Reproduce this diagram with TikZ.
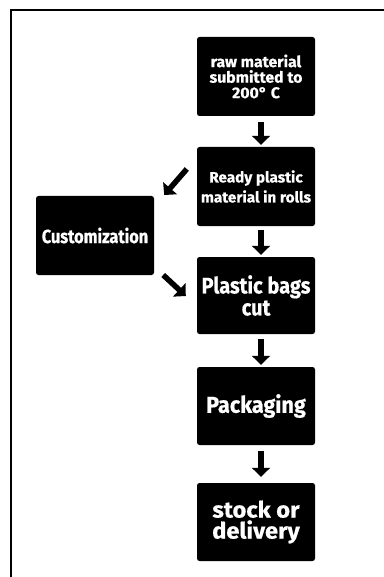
\documentclass[tikz,border=0pt]{standalone}
\usepackage{fontspec}
\setmainfont{Fira Sans}
\newfontfamily\fsA{Fira Sans}[FakeStretch=1.02,FakeBold=0.6]
\newfontfamily\fsB{Fira Sans}[FakeStretch=0.86,FakeBold=0.6]
\newfontfamily\fsE{Fira Sans}[FakeStretch=0.89,FakeBold=0.6]
\newfontfamily\fsC{Fira Sans}[FakeStretch=0.94,FakeBold=0.6]
\newfontfamily\fsD{Fira Sans}[FakeStretch=1.05,FakeBold=0.6]
\usetikzlibrary{arrows.meta}
\tikzset{
  x=1pt,y=-1pt,
  box/.style={fill=black,rounded corners=2.5pt,minimum width=118pt,inner sep=0pt,
    text=white,align=center},
  arr/.style={line width=5.5pt,-{Triangle[width=18pt,length=9pt]}},
  frame/.style={line width=2.5pt,line cap=rect}
}
\begin{document}
\begin{tikzpicture}
\useasboundingbox (0,0) rectangle (383,577);
\draw[frame] (383,10) -- (11,10) -- (11,578);
\node[box,minimum height=79pt,font=\fsA\bfseries\fontsize{15.5}{15.5}\selectfont] (b1) at (256,76.5) {raw material\\submitted to\\200° C};
\node[box,minimum height=79pt,font=\fsA\bfseries\fontsize{15}{20}\selectfont] (b2) at (256,186.5) {Ready plastic\\material in rolls};
\node[box,minimum height=79pt,font=\fsB\bfseries\fontsize{19}{22}\selectfont] (c) at (95,235.5) {Customization};
\node[box,minimum height=77pt,font=\fsE\bfseries\fontsize{22.5}{22}\selectfont] (b3) at (256,295.5) {Plastic bags\\cut};
\node[box,minimum height=78pt,font=\fsC\bfseries\fontsize{23}{22}\selectfont] (b4) at (256,406) {Packaging};
\node[box,minimum height=78pt,font=\fsD\bfseries\fontsize{22.5}{21}\selectfont] (b5) at (256,522) {stock or\\delivery};
\draw[arr,shorten <=6pt,shorten >=2pt] ([xshift=5pt]b1.south) -- ([xshift=5pt]b2.north);
\draw[arr,shorten <=4pt,shorten >=2pt] ([xshift=5pt]b2.south) -- ([xshift=5pt]b3.north);
\draw[arr,shorten <=5pt,shorten >=2pt] ([xshift=5pt]b3.south) -- ([xshift=5pt]b4.north);
\draw[arr,shorten <=6pt,shorten >=6pt] ([xshift=5pt]b4.south) -- ([xshift=5pt]b5.north);
\draw[arr] ([shift={(-10,-17.5)}]b2.west) -- ([shift={(10,-40.5)}]c.east);
\draw[arr] ([shift={(9,39.5)}]c.east) -- ([shift={(-11,0.5)}]b3.west);
\end{tikzpicture}
\end{document}
